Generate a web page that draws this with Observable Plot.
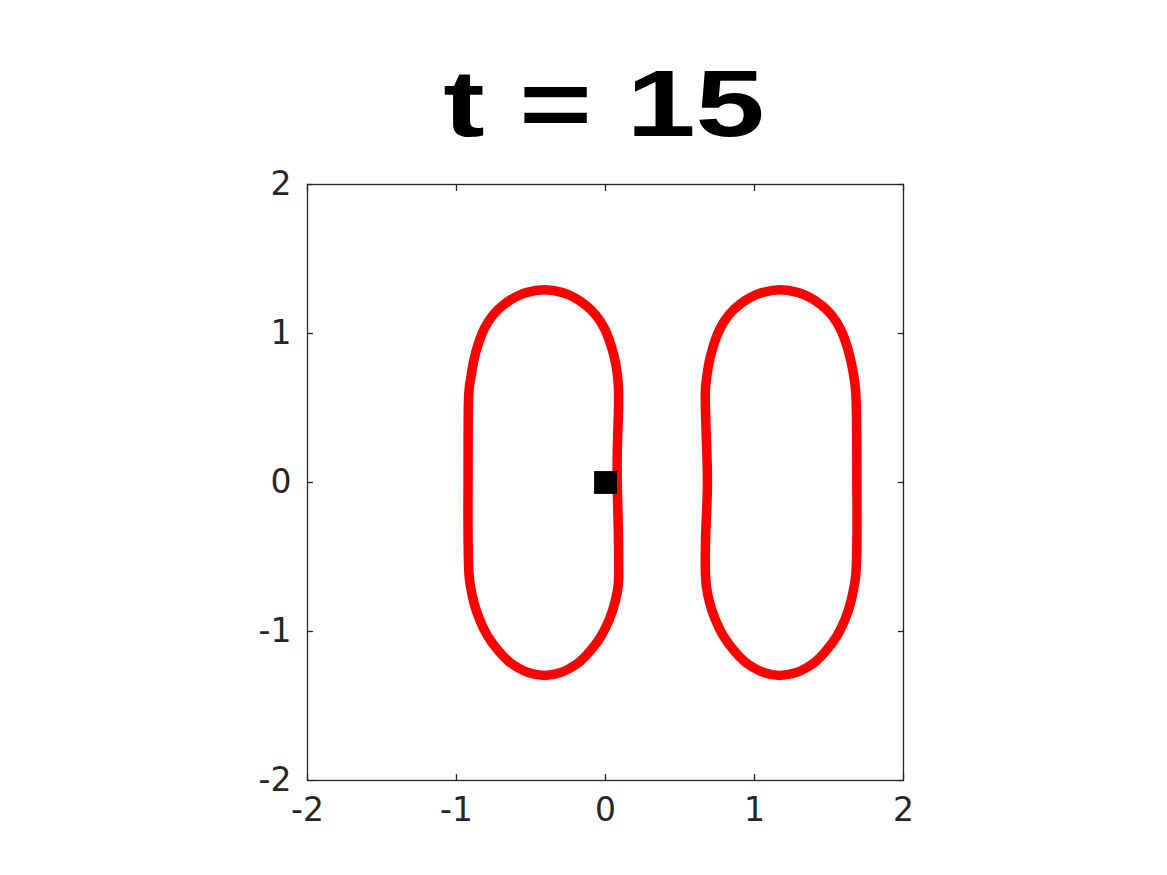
<!DOCTYPE html>
<html>
<head>
<meta charset="utf-8">
<script src="https://cdn.jsdelivr.net/npm/d3@7"></script>
<script src="https://cdn.jsdelivr.net/npm/@observablehq/plot@0.6"></script>
<style>
  html, body { margin: 0; padding: 0; background: #fff; }
  #wrap { width: 1167px; height: 875px; position: relative; overflow: hidden; }
  #title { height: 140px; width: 1167px; position: relative; }
  #title span { position: absolute; left: 0; width: 1208px; text-align: center; top: 56px;
    font-family: "Liberation Sans", Arial, Helvetica, sans-serif; font-weight: bold; font-size: 95px;
    line-height: 1; color: #000; white-space: pre; transform: scaleX(1.31); transform-origin: 604px 50%; }
  #chart svg { overflow: visible; }
</style>
</head>
<body>
<div id="wrap">
  <div id="title"><span id="titleText"></span></div>
  <div id="chart"></div>
</div>
<script>
const titleText = "t = 15";
const ticks = [-2, -1, 0, 1, 2];

// Left closed curve (clockwise from top)
const leftX = [-0.41, -0.276, -0.209, -0.135, -0.068, -0.001, 0.043, 0.070, 0.083, 0.088,
               0.088, 0.077, 0.078, 0.084, 0.088,
               0.089, 0.087, 0.067, 0.030, -0.027, -0.108, -0.168, -0.242, -0.296, -0.41,
               -0.524, -0.578, -0.652, -0.712, -0.793, -0.850, -0.887, -0.907, -0.918,
               -0.922, -0.924, -0.922, -0.922, -0.922,
               -0.918, -0.903, -0.890, -0.863, -0.819, -0.752, -0.685, -0.611, -0.544];
const leftY = [1.302, 1.275, 1.244, 1.195, 1.134, 1.034, 0.906, 0.799, 0.705, 0.631,
               0.46, 0.2, 0.0, -0.22, -0.42,
               -0.633, -0.693, -0.801, -0.915, -1.036, -1.139, -1.203, -1.250, -1.277, -1.304,
               -1.277, -1.250, -1.203, -1.139, -1.036, -0.915, -0.801, -0.693, -0.633,
               -0.42, -0.2, 0.0, 0.2, 0.46,
               0.631, 0.705, 0.799, 0.906, 1.034, 1.134, 1.195, 1.244, 1.275];

// Right closed curve (clockwise from top)
const rightX = [1.172, 1.306, 1.373, 1.447, 1.514, 1.581, 1.625, 1.652, 1.668, 1.680,
                1.685, 1.687, 1.687, 1.688, 1.688,
                1.682, 1.669, 1.649, 1.612, 1.555, 1.474, 1.414, 1.340, 1.286, 1.165,
                1.058, 1.004, 0.930, 0.870, 0.789, 0.732, 0.695, 0.675, 0.670,
                0.669, 0.678, 0.687, 0.680, 0.671,
                0.668, 0.679, 0.692, 0.719, 0.763, 0.830, 0.897, 0.971, 1.038];
const rightY = [1.302, 1.275, 1.244, 1.195, 1.134, 1.034, 0.906, 0.799, 0.705, 0.631,
                0.46, 0.2, 0.0, -0.2, -0.42,
                -0.633, -0.693, -0.801, -0.915, -1.036, -1.139, -1.203, -1.250, -1.277, -1.304,
                -1.277, -1.250, -1.203, -1.139, -1.036, -0.915, -0.801, -0.693, -0.633,
                -0.42, -0.2, 0.0, 0.2, 0.46,
                0.631, 0.705, 0.799, 0.906, 1.034, 1.134, 1.195, 1.244, 1.275];

// Black square marker
const markerX = [0];
const markerY = [0];

document.getElementById("titleText").textContent = titleText;

const curves = [
  ...leftX.map((x, i) => ({x, y: leftY[i], s: "left"})),
  ...rightX.map((x, i) => ({x, y: rightY[i], s: "right"}))
];
const markers = markerX.map((x, i) => ({x, y: markerY[i]}));

const axisColor = "#262626";
const tickFont = "\"DejaVu Sans\", \"Liberation Sans\", Arial, sans-serif";
const fmt = d => d < 0 ? "-" + Math.abs(d) : String(d);

const chart = Plot.plot({
  width: 1167,
  height: 735,
  marginLeft: 307,
  marginRight: 264,
  marginTop: 44,
  marginBottom: 95,
  style: {fontFamily: tickFont, fontSize: "33px", color: axisColor, background: "white"},
  x: {domain: [-2, 2]},
  y: {domain: [-2, 2]},
  marks: [
    Plot.line(curves, {x: "x", y: "y", z: "s", curve: "basis-closed", stroke: "#ff0000", strokeWidth: 9.5, strokeLinejoin: "round"}),
    Plot.dot(markers, {x: "x", y: "y", symbol: "square", r: 12.9, fill: "#000", stroke: "none"}),
    Plot.frame({stroke: axisColor, strokeWidth: 1.3}),
    Plot.axisX(ticks, {anchor: "bottom", tickSize: -6, text: null, label: null, stroke: axisColor, strokeWidth: 1.3}),
    Plot.axisX(ticks, {anchor: "top", tickSize: -6, text: null, label: null, stroke: axisColor, strokeWidth: 1.3}),
    Plot.axisY(ticks, {anchor: "left", tickSize: -6, text: null, label: null, stroke: axisColor, strokeWidth: 1.3}),
    Plot.axisY(ticks, {anchor: "right", tickSize: -6, text: null, label: null, stroke: axisColor, strokeWidth: 1.3}),
    Plot.axisX(ticks, {anchor: "bottom", tickSize: 0, tickPadding: 17, label: null, fill: axisColor, fontSize: 33, tickFormat: fmt}),
    Plot.axisY(ticks, {anchor: "left", tickSize: 0, tickPadding: 16, label: null, fill: axisColor, fontSize: 33, tickFormat: fmt})
  ]
});
document.getElementById("chart").appendChild(chart);
</script>
</body>
</html>
